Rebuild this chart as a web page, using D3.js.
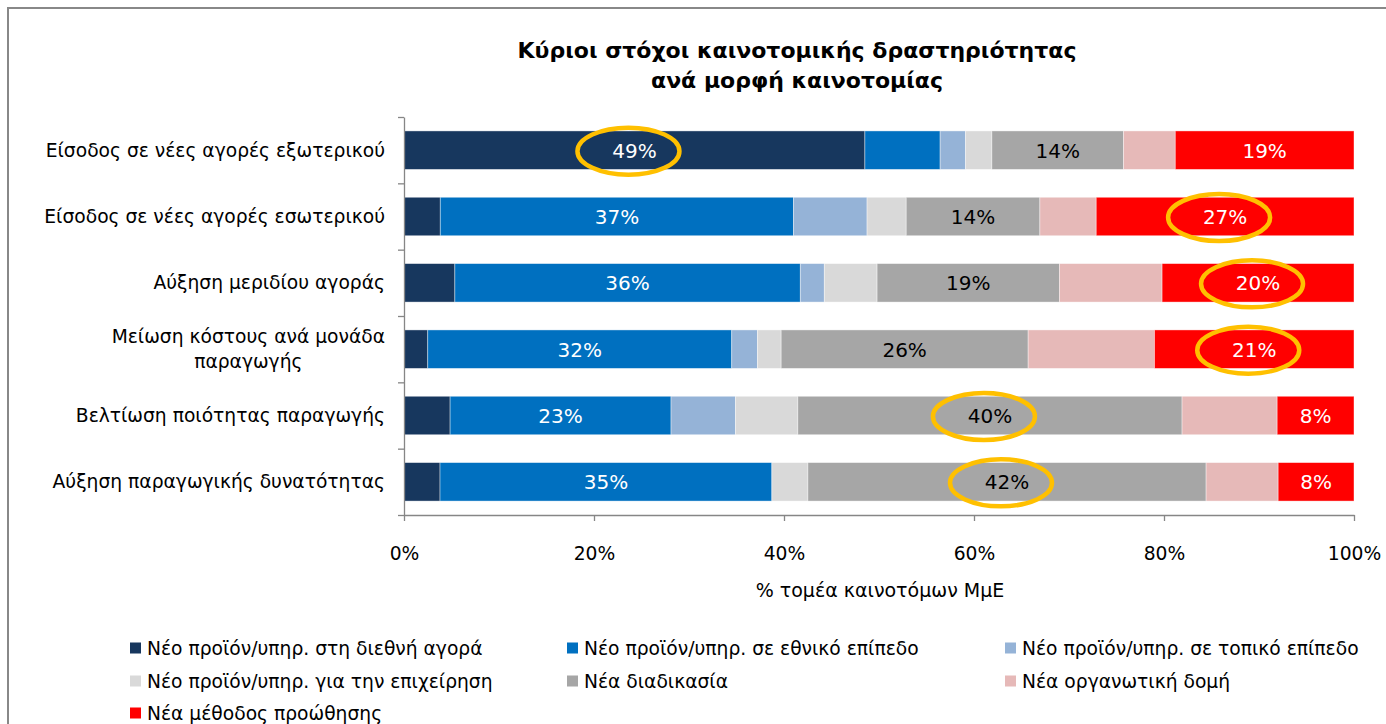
<!DOCTYPE html>
<html>
<head>
<meta charset="utf-8">
<script src="https://cdn.jsdelivr.net/npm/d3@7"></script>
<style>
  body { margin: 0; background: #fff; }
  svg { display: block; }
  text { font-family: "DejaVu Sans", Verdana, sans-serif; fill: #000; }
</style>
</head>
<body>
<svg id="chart" width="1386" height="724"></svg>
<script>
// Goals of innovation activity, by type of innovation (share of innovative SMEs)
const categories = [
  "Είσοδος σε νέες αγορές εξωτερικού",
  "Είσοδος σε νέες αγορές εσωτερικού",
  "Αύξηση μεριδίου αγοράς",
  "Μείωση κόστους ανά μονάδα\nπαραγωγής",
  "Βελτίωση ποιότητας παραγωγής",
  "Αύξηση παραγωγικής δυνατότητας"
];

const seriesNames = [
  "Νέο προϊόν/υπηρ. στη διεθνή αγορά",
  "Νέο προϊόν/υπηρ. σε εθνικό επίπεδο",
  "Νέο προϊόν/υπηρ. σε τοπικό επίπεδο",
  "Νέο προϊόν/υπηρ. για την επιχείρηση",
  "Νέα διαδικασία",
  "Νέα οργανωτική δομή",
  "Νέα μέθοδος προώθησης"
];

// one array per series, in category order (%)
const newIntlMarket  = [49, 3.8, 5.3, 2.5, 4.8, 3.8];
const newNational    = [8, 37, 36, 32, 23, 35];
const newLocal       = [2.7, 7.7, 2.5, 2.7, 6.7, 0];
const newToFirm      = [2.8, 4.1, 5.5, 2.5, 6.5, 3.8];
const newProcess     = [14, 14, 19, 26, 40, 42];
const newOrgStruct   = [5.5, 5.9, 10.7, 13.3, 9.9, 7.6];
const newPromotion   = [19, 27, 20, 21, 8, 8];

const xTickValues = [0, 0.2, 0.4, 0.6, 0.8, 1];

// series whose segments carry a value label, per category
const labelledSeries = [[0, 4, 6], [1, 4, 6], [1, 4, 6], [1, 4, 6], [1, 4, 6], [1, 4, 6]];
// series whose label is circled, per category
const circledSeries = [0, 6, 6, 6, 4, 4];

const seriesColors = ["#17375E", "#0070C0", "#95B3D7", "#D9D9D9", "#A6A6A6", "#E6B9B8", "#FF0000"];
const labelColors  = ["#fff", "#fff", "#000", "#000", "#000", "#000", "#fff"];

const allSeries = [newIntlMarket, newNational, newLocal, newToFirm, newProcess, newOrgStruct, newPromotion];
const keys = seriesNames.map((_, i) => "s" + i);
const rows = categories.map((c, ci) => {
  const r = { category: c, index: ci };
  allSeries.forEach((s, si) => { r["s" + si] = s[ci]; });
  return r;
});

const stacked = d3.stack().keys(keys).offset(d3.stackOffsetExpand)(rows);

const svg = d3.select("#chart");
const baseSize = 18.7;

// chart frame
svg.append("path")
  .attr("d", "M8,724 V8 H1386")
  .attr("fill", "none")
  .attr("stroke", "#888")
  .attr("stroke-width", 2);

// title
const title = svg.append("text")
  .attr("text-anchor", "middle")
  .attr("font-weight", "bold")
  .attr("font-size", 22);
title.append("tspan").attr("x", 797).attr("y", 58).text("Κύριοι στόχοι καινοτομικής δραστηριότητας");
title.append("tspan").attr("x", 797).attr("y", 88).text("ανά μορφή καινοτομίας");

const plot = { left: 404, right: 1354, top: 117, bottom: 515 };

const x = d3.scaleLinear().domain([0, 1]).range([plot.left, plot.right]);
const y = d3.scaleBand().domain(categories).range([plot.top, plot.bottom])
  .paddingInner(0.42).paddingOuter(0.21);

// bars
const layers = svg.append("g").selectAll("g")
  .data(stacked)
  .join("g")
  .attr("fill", (d, i) => seriesColors[i]);

layers.selectAll("rect")
  .data(d => d.map(p => ({ p, key: d.key })))
  .join("rect")
  .attr("x", d => x(d.p[0]))
  .attr("y", d => y(d.p.data.category))
  .attr("width", d => Math.max(0, x(d.p[1]) - x(d.p[0])))
  .attr("height", y.bandwidth())
  .attr("stroke", "#fff")
  .attr("stroke-opacity", 0.5)
  .attr("stroke-width", 0.8);

// axes
const axisColor = "#868686";
const boundary = d3.scaleLinear().domain([0, categories.length]).range([plot.top, plot.bottom]);
const yAxis = svg.append("g")
  .attr("transform", `translate(${plot.left},0)`)
  .call(d3.axisLeft(boundary).ticks(categories.length).tickFormat("").tickSize(6).tickSizeOuter(0));
yAxis.select(".domain").attr("stroke", axisColor).attr("stroke-width", 1.3);
yAxis.selectAll(".tick line").attr("stroke", axisColor).attr("stroke-width", 1.3);

const xAxis = svg.append("g")
  .attr("transform", `translate(0,${plot.bottom})`)
  .call(d3.axisBottom(x).tickValues(xTickValues).tickFormat(d3.format(".0%")).tickSize(6).tickSizeOuter(0));
xAxis.select(".domain").attr("stroke", axisColor).attr("stroke-width", 1.3);
xAxis.selectAll(".tick line").attr("stroke", axisColor).attr("stroke-width", 1.3);
xAxis.selectAll(".tick text")
  .attr("y", 45).attr("dy", null)
  .attr("font-size", baseSize)
  .attr("font-family", "DejaVu Sans, Verdana, sans-serif")
  .attr("fill", "#000");

// axis title
svg.append("text")
  .attr("x", 880).attr("y", 597)
  .attr("text-anchor", "middle")
  .attr("font-size", 19)
  .text("% τομέα καινοτόμων ΜμΕ");

// category labels (multi-line labels centred on their widest line)
const catG = svg.append("g");
categories.forEach(c => {
  const lines = c.split("\n");
  const cy = y(c) + y.bandwidth() / 2;
  const lh = 25;
  const t = catG.append("text").attr("font-size", baseSize).attr("text-anchor", "end");
  lines.forEach((ln, li) => {
    t.append("tspan").attr("x", 385).attr("y", cy + 6.5 + (li - (lines.length - 1) / 2) * lh).text(ln);
  });
  if (lines.length > 1) {
    const widths = [];
    t.selectAll("tspan").each(function () { widths.push(this.getComputedTextLength()); });
    const w = d3.max(widths);
    t.attr("text-anchor", "middle");
    t.selectAll("tspan").attr("x", 385 - w / 2);
  }
});

// value labels
const fmt = v => Math.round(v) + "%";
const labelG = svg.append("g");
const ringG = svg.append("g");
rows.forEach((r, ci) => {
  labelledSeries[ci].forEach(si => {
    const seg = stacked[si][ci];
    const cx = (x(seg[0]) + x(seg[1])) / 2;
    const cy = y(r.category) + y.bandwidth() / 2;
    labelG.append("text")
      .attr("x", cx).attr("y", cy + 7.5)
      .attr("text-anchor", "middle")
      .attr("font-size", 20)
      .style("fill", labelColors[si])
      .text(fmt(allSeries[si][ci]));
    if (circledSeries[ci] === si) {
      ringG.append("ellipse")
        .attr("cx", cx - 6).attr("cy", cy + 1)
        .attr("rx", 51).attr("ry", 23.5)
        .attr("fill", "none")
        .attr("stroke", "#FFC000")
        .attr("stroke-width", 4.5);
    }
  });
});

// legend, three columns
const legend = svg.append("g");
const colX = [130, 567, 1005];
const rowY = [648, 681, 713];
seriesNames.forEach((name, i) => {
  const gx = colX[i % 3], gy = rowY[Math.floor(i / 3)];
  legend.append("rect")
    .attr("x", gx).attr("y", gy - 5.5)
    .attr("width", 11).attr("height", 11)
    .attr("fill", seriesColors[i]);
  legend.append("text")
    .attr("x", gx + 17).attr("y", gy + 6.5)
    .attr("font-size", baseSize)
    .text(name);
});
</script>
</body>
</html>
